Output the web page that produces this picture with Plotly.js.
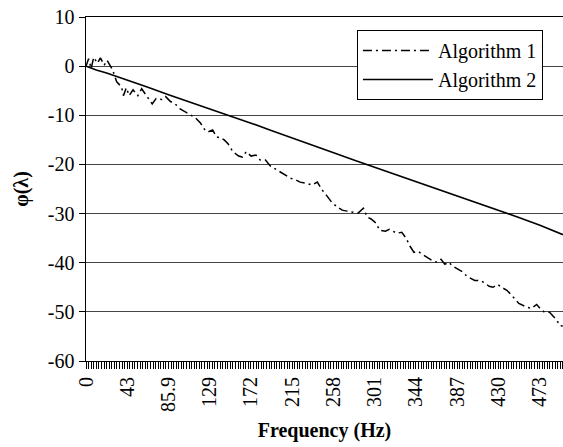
<!DOCTYPE html>
<html>
<head>
<meta charset="utf-8">
<script src="https://cdn.plot.ly/plotly-3.0.1.min.js"></script>
<style>html,body{margin:0;padding:0;background:#fff;}#chart{width:563px;height:447px;}</style>
</head>
<body>
<div id="chart"></div>
<script>
// Frequency (Hz) sample points and phase values
const freq1 = [0,2.7,5.4,8,12,15,19,22,27.6,
  32,37,39,42,45,49,54,58,61,65,69,73,79,83,88,93,98,103.5,109,114,
  119,124,127,132,136,140,144,148,153,159,163,167,172,177,181.5,187,192,197,202,207.5,
  213,219,223,229,235.5,241,246,251,256,262,267,272,278,283.5,289,293,297,302,306,312,
  316,320,324,329,333.5,337.5,341.7,346,351,355,360,365.6,369.8,374,378,382,387.5,392.7,397,401,
  405,410,414.5,420,424,429,433,438.5,442.7,447,451,455,460,464,469.6,474,478,483,486.3,490.5,
  493.6,496.7];
const alg1 = [0,1.5,-0.5,1.8,0.6,1.7,0.2,1.2,-0.7,
  -3.2,-4.2,-6.0,-4.4,-6.0,-4.8,-6.0,-4.6,-5.4,-6.4,-7.7,-6.6,-6.8,-6.2,-7.2,-7.7,-8.7,-9.3,-9.9,-10.5,
  -11.5,-13.0,-13.4,-13.0,-14.4,-14.6,-15.0,-15.8,-17.4,-18.3,-18.5,-17.4,-18.3,-18.1,-19.1,-19.1,-20.3,-20.9,-21.5,-22.1,
  -22.8,-23.2,-23.6,-23.8,-24.2,-23.6,-25.2,-26.4,-27.7,-28.7,-29.3,-29.5,-29.7,-29.9,-28.9,-30.7,-31.1,-31.9,-33.4,-33.6,
  -33.2,-33.6,-34.0,-33.8,-35.0,-36.6,-37.9,-37.7,-38.3,-38.9,-39.5,-39.9,-39.3,-40.3,-39.9,-40.7,-41.3,-41.9,-42.8,-43.2,
  -43.6,-43.6,-44.0,-44.8,-45.0,-44.4,-45.0,-45.6,-46.4,-47.4,-48.3,-48.7,-49.1,-49.3,-48.5,-49.5,-50.1,-50.1,-50.9,-51.7,
  -52.8,-52.9];

const freq2 = [0,10.7,21.5,43,64.5,86,107,129,150,172,193,215,236,258,279,301,322,344,365,387,408,430,451,473,494,497];
const alg2  = [0,-0.8,-1.4,-2.8,-4.3,-5.8,-7.2,-8.7,-10.1,-11.6,-13.1,-14.6,-16.0,-17.6,-19.1,-20.6,-22.0,-23.5,-24.9,-26.4,-27.8,-29.3,-30.8,-32.4,-34.0,-34.3];

const xTickVals = [0,42.97,85.94,128.9,171.9,214.8,257.8,300.8,343.75,386.7,429.7,472.7];
const xTickText = ['0','43','85.9','129','172','215','258','301','344','387','430','473'];
const yTickVals = [10,0,-10,-20,-30,-40,-50,-60];
const yTickText = ['10','0','-10','-20','-30','-40','-50','-60'];
const seriesNames = ['Algorithm 1','Algorithm 2'];

const FONT = 'Liberation Serif';

const data = [
  {x: freq1, y: alg1, type: 'scatter', mode: 'lines', name: seriesNames[0],
   legendgroup: 'a', line: {color: '#000', width: 1.5, dash: '9px,4px,2px,4px'}},
  {x: freq2, y: alg2, type: 'scatter', mode: 'lines', name: seriesNames[1],
   legendgroup: 'b', line: {color: '#000', width: 1.6}}
];

const layout = {
  width: 563, height: 447,
  margin: {l: 86, r: 0, t: 17, b: 86},
  paper_bgcolor: '#fff', plot_bgcolor: '#fff',
  font: {family: FONT, size: 20, color: '#000'},
  showlegend: true,
  legend: {x: 0.568, y: 0.962, xanchor: 'left', yanchor: 'top',
    bordercolor: '#000', borderwidth: 1, bgcolor: '#fff', itemwidth: 70,
    font: {family: FONT, size: 20, color: '#000'}, tracegroupgap: 0},
  xaxis: {
    range: [0, 497], tickmode: 'array', tickvals: xTickVals, ticktext: xTickText,
    tickangle: -90, ticks: 'outside', ticklen: 7, tickcolor: '#000', tickwidth: 1,
    showline: true, mirror: true, linecolor: '#000', linewidth: 1, showgrid: false, zeroline: false,
    tickfont: {family: FONT, size: 20, color: '#000'},
    minor: {tickmode: 'linear', tick0: 0, dtick: 2.6855, ticks: 'outside', ticklen: 7, tickcolor: '#000', tickwidth: 1, showgrid: false},
    title: {text: 'Frequency (Hz)', font: {family: FONT, size: 20, color: '#000', weight: 'bold'}, standoff: 11}
  },
  yaxis: {
    range: [-60, 10], tickmode: 'array', tickvals: yTickVals, ticktext: yTickText,
    ticks: 'outside', ticklen: 6, tickcolor: '#000',
    showline: true, linecolor: '#000', linewidth: 1.5,
    showgrid: true, gridcolor: '#444', gridwidth: 1, zeroline: false,
    tickfont: {family: FONT, size: 20, color: '#000'},
    title: {text: 'φ(λ)', font: {family: FONT, size: 20, color: '#000', weight: 'bold'}, standoff: 14}
  }
};

Plotly.newPlot('chart', data, layout, {staticPlot: true, displayModeBar: false});
</script>
</body>
</html>
